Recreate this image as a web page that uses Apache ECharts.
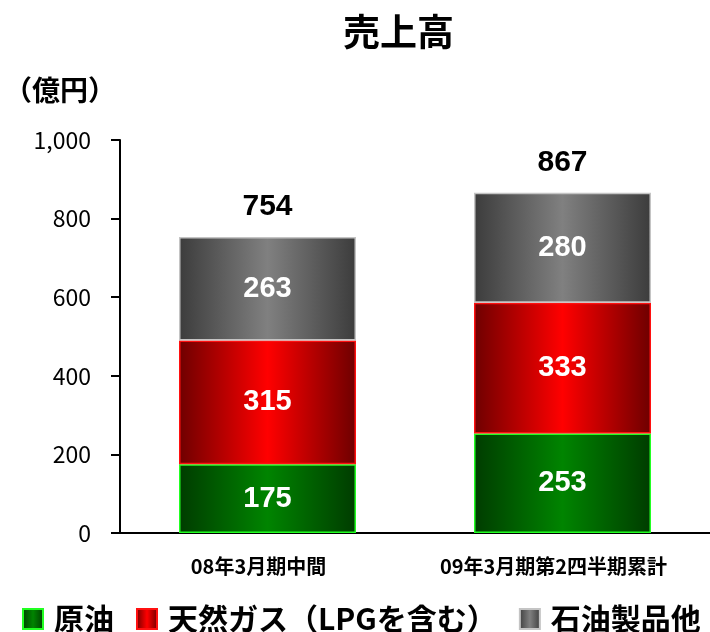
<!DOCTYPE html>
<html><head><meta charset="utf-8">
<script src="https://cdn.jsdelivr.net/npm/echarts@6/dist/echarts.min.js"></script>
<style>html,body{margin:0;padding:0;background:#fff}#c{width:710px;height:632px}</style>
</head><body><div id="c"></div>
<script>
const categories = ['08年3月期中間', '09年3月期第2四半期累計'];
const seriesNames = ['原油', '天然ガス（LPGを含む）', '石油製品他'];
const crudeOil = [175, 253];
const naturalGas = [315, 333];
const petroleumProducts = [263, 280];
const totals = [754, 867];
const yTicks = [0, 200, 400, 600, 800, 1000];

const FONT = '"Noto Sans CJK JP", sans-serif';
function grad(edge, mid) {
  return new echarts.graphic.LinearGradient(0, 0, 1, 0, [
    {offset: 0, color: edge}, {offset: 0.5, color: mid}, {offset: 1, color: edge}
  ]);
}
const segLabel = {show: true, position: 'inside', color: '#fff', fontSize: 29, fontWeight: 'bold', fontFamily: '"Liberation Sans", Arial, sans-serif'};

const chart = echarts.init(document.getElementById('c'), null, {renderer: 'canvas'});
chart.setOption({
  animation: false,
  backgroundColor: '#fff',
  title: {text: '売上高', left: 338, top: 8, textStyle: {fontSize: 37, fontWeight: 'bold', fontFamily: FONT, color: '#000'}},
  graphic: [{type: 'text', left: 4, top: 76, style: {text: '（億円）', fontSize: 28, fontWeight: 'bold', fontFamily: FONT, fill: '#000'}}],
  grid: {left: 120, right: 0, top: 140, bottom: 99, containLabel: false},
  legend: {
    data: seriesNames, left: 17, top: 599, itemWidth: 20, itemHeight: 20, itemGap: 22, icon: 'rect',
    textStyle: {fontSize: 30, fontWeight: 'bold', fontFamily: FONT, color: '#000', padding: [0, 0, 0, 6]}
  },
  xAxis: {
    type: 'category', data: categories,
    axisLine: {lineStyle: {color: '#000', width: 2}}, axisTick: {show: false},
    axisLabel: {interval: 0, hideOverlap: false, margin: 23, fontSize: 20, fontWeight: 'bold', fontFamily: FONT, color: '#000', padding: [0, 18, 0, 0]}
  },
  yAxis: {
    type: 'value', min: yTicks[0], max: yTicks[yTicks.length - 1], interval: 200,
    axisLine: {show: true, lineStyle: {color: '#000', width: 2}},
    axisTick: {show: true, length: 9, lineStyle: {color: '#000', width: 2}},
    splitLine: {show: false},
    axisLabel: {margin: 29, fontSize: 23, fontFamily: FONT, color: '#000', formatter: v => v.toLocaleString('en-US')}
  },
  series: [
    {name: seriesNames[0], type: 'bar', stack: 's', data: crudeOil, barCategoryGap: '40%',
     itemStyle: {color: grad('#003c00', '#008400'), borderColor: '#22ff22', borderWidth: 1.5}, label: segLabel},
    {name: seriesNames[1], type: 'bar', stack: 's', data: naturalGas,
     itemStyle: {color: grad('#6e0000', '#ff0000'), borderColor: '#ff1010', borderWidth: 1.5}, label: segLabel},
    {name: seriesNames[2], type: 'bar', stack: 's', data: petroleumProducts,
     itemStyle: {color: grad('#3c3c3c', '#808080'), borderColor: '#c4c4c4', borderWidth: 1.5}, label: segLabel},
    {name: '合計', type: 'scatter', data: totals, symbolSize: 1, itemStyle: {color: 'rgba(0,0,0,0)', opacity: 1},
     label: {show: true, position: 'top', distance: 14, color: '#000', opacity: 1, fontSize: 30, fontWeight: 'bold', fontFamily: '"Liberation Sans", Arial, sans-serif'}}
  ]
});
</script></body></html>
